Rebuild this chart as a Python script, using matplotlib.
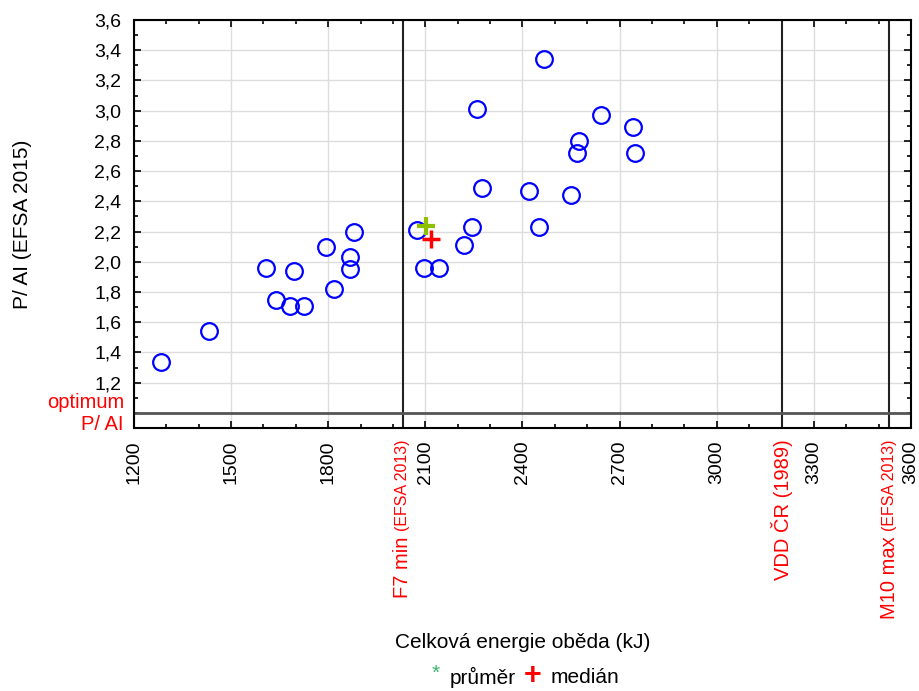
import matplotlib.pyplot as plt
from matplotlib.ticker import MultipleLocator

plt.rcParams['font.family'] = ['Liberation Sans', 'DejaVu Sans']

energy = [1283, 1431, 1608, 1639, 1683, 1724, 1695, 1793, 1818, 1867, 1867, 1879,
          2075, 2095, 2143, 2218, 2243, 2261, 2274, 2421, 2452, 2465, 2551, 2575,
          2569, 2643, 2742, 2748]
p_ai = [1.34, 1.54, 1.96, 1.75, 1.71, 1.71, 1.94, 2.10, 1.82, 2.03, 1.95, 2.20,
        2.21, 1.96, 1.96, 2.11, 2.23, 3.01, 2.49, 2.47, 2.23, 3.34, 2.44, 2.80,
        2.72, 2.97, 2.89, 2.72]
mean_pt = (2103, 2.24)
median_pt = (2118, 2.15)

ref_lines = [2030, 3200, 3533]
ref_main = ['F7 min', 'VDD ČR (1989)', 'M10 max']
ref_small = ['(EFSA 2013)', '', '(EFSA 2013)']
optimum = 1.0

xticks = list(range(1200, 3601, 300))
yticks = [1.2, 1.4, 1.6, 1.8, 2.0, 2.2, 2.4, 2.6, 2.8, 3.0, 3.2, 3.4, 3.6]

fig = plt.figure(figsize=(9.19, 6.91), dpi=100)
ax = fig.add_axes([0.1458, 0.3806, 0.8455, 0.5904])

ax.set_xlim(1200, 3600)
ax.set_ylim(0.9, 3.6)
ax.set_xticks(xticks)
ax.set_xticklabels([str(t) for t in xticks], rotation=90, fontsize=14)
ax.set_yticks(yticks)
ax.set_yticklabels([f'{t:.1f}'.replace('.', ',') for t in yticks], fontsize=14)
ax.xaxis.set_minor_locator(MultipleLocator(100))
ax.yaxis.set_minor_locator(MultipleLocator(0.1))
ax.tick_params(which='both', direction='in', top=True, right=True, width=1.2, pad=9)
ax.tick_params(which='major', length=5)
ax.tick_params(which='minor', length=3)
ax.grid(True, which='major', color='#dddddd', lw=1)
ax.set_axisbelow(True)
for s in ax.spines.values():
    s.set_linewidth(1.5)

for x in ref_lines:
    ax.axvline(x, color='#222222', lw=1.5)
ax.axhline(optimum, color='#555555', lw=2)

ax.plot(energy, p_ai, 'o', mfc='none', mec='#0000ff', ms=12, mew=1.6, zorder=3)
ax.plot(*mean_pt, '+', color='#8dc000', ms=13, mew=3, zorder=4)
ax.plot(*median_pt, '+', color='#ff0000', ms=13, mew=2.5, zorder=4)

fig.text(0.024, 0.675, 'P/ AI (EFSA 2015)', rotation=90, fontsize=15,
         ha='center', va='center')
fig.text(0.569, 0.0695, 'Celková energie oběda (kJ)', fontsize=15,
         ha='center', va='center')

ax.text(-0.013, optimum + 0.066, 'optimum', transform=ax.get_yaxis_transform(),
        color='red', fontsize=14.5, ha='right', va='center')
ax.text(-0.013, optimum - 0.075, 'P/ AI', transform=ax.get_yaxis_transform(),
        color='red', fontsize=14.5, ha='right', va='center')

# red labels under reference lines
fig.canvas.draw()
r = fig.canvas.get_renderer()
y0 = 0.3806 - 11 / 691
for x, m, s in zip(ref_lines, ref_main, ref_small):
    xf = fig.transFigure.inverted().transform(ax.transData.transform((x, 1)))[0]
    top = y0
    if s:
        t = fig.text(xf, top, s, rotation=90, color='red', fontsize=11.5,
                     ha='center', va='top')
        bb = t.get_window_extent(r)
        top = bb.y0 / fig.bbox.height - 6 / 691
    fig.text(xf, top, m, rotation=90, color='red', fontsize=14.5,
             ha='center', va='top')

# legend
fig.text(0.474, 0.026, '*', color='#3cb371', fontsize=15, ha='center', va='center')
fig.text(0.489, 0.019, 'průměr', fontsize=15, ha='left', va='center')
fig.text(0.58, 0.021, '+', color='red', fontsize=22, fontweight='bold',
         ha='center', va='center')
fig.text(0.599, 0.019, 'medián', fontsize=15, ha='left', va='center')

fig.savefig('out.png', dpi=100, facecolor='white')
